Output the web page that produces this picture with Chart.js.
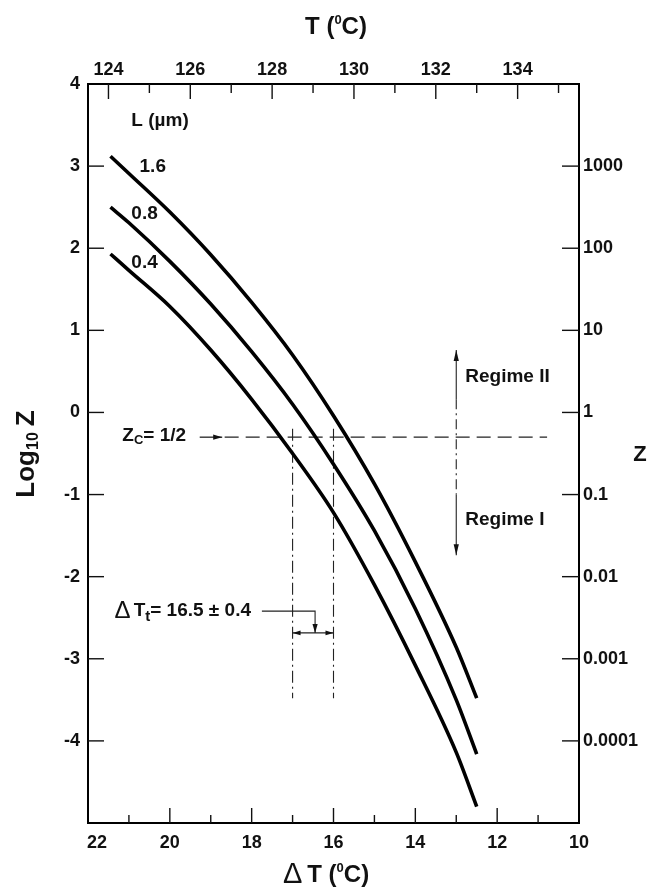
<!DOCTYPE html>
<html><head><meta charset="utf-8">
<script src="https://cdn.jsdelivr.net/npm/chart.js@4.4.0/dist/chart.umd.min.js"></script>
<style>html,body{margin:0;padding:0;background:#fff}#wrap{width:651px;height:887px}</style>
</head><body><div id="wrap"><canvas id="c" width="651" height="887" style="width:651px;height:887px"></canvas></div>
<script>
// ---------- data (ΔT in °C, log10 Z) ----------
const curveLabels = ["1.6", "0.8", "0.4"];
const dT_16 = [21.45, 21, 20, 19, 18, 17, 16, 15, 14, 13, 12.5];
const logZ_16 = [3.12, 2.91, 2.44, 1.92, 1.34, 0.70, -0.04, -0.87, -1.82, -2.86, -3.48];
const dT_08 = [21.45, 21, 20, 19, 18, 17, 16, 15, 14, 13, 12.5];
const logZ_08 = [2.50, 2.31, 1.84, 1.32, 0.74, 0.10, -0.63, -1.44, -2.39, -3.50, -4.16];
const dT_04 = [21.45, 21, 20, 19, 18, 17, 16, 15, 14, 13, 12.5];
const logZ_04 = [1.93, 1.73, 1.29, 0.76, 0.16, -0.50, -1.22, -2.10, -3.08, -4.14, -4.80];

// ---------- axes / ticks ----------
const Tm = 145.5;                      // T = Tm - ΔT
const bottomTicks = [22, 20, 18, 16, 14, 12, 10];
const bottomMinor = [21, 19, 17, 15, 13, 11];
const topTicks = [124, 126, 128, 130, 132, 134];
const topMinor = [125, 127, 129, 131, 133, 135];
const leftTicks = [4, 3, 2, 1, 0, -1, -2, -3, -4];
const rightTicks = [3, 2, 1, 0, -1, -2, -3, -4];
const rightTickLabels = ["1000", "100", "10", "1", "0.1", "0.01", "0.001", "0.0001"];

// ---------- annotations ----------
const zcLog = -0.301;                  // log10(1/2)
const zcLineDT = [18.66, 10.78];
const tRangeDT = [17, 16];
const tRangeLog = [-0.2, -3.48];
const regimeDT = 13;
const regimeLog = [0.76, 0.16, -1.0, -1.74];
const leaderDT = [17.75, 16.45];
const leaderLog = [-2.42, -2.685];

const FONT = "'Liberation Sans', Arial, Helvetica, sans-serif";
const INK = '#111';

const pts = (xs, ys) => xs.map((x, i) => ({x: x, y: ys[i]}));
const curve = (xs, ys) => ({data: pts(xs, ys), borderColor: '#000', borderWidth: 3.6,
  tension: 0.4, cubicInterpolationMode: 'monotone', pointRadius: 0, showLine: true, borderCapStyle: 'butt'});
const thin = (data, dash) => ({data: data, borderColor: '#222', borderWidth: 1.1, borderDash: dash || [],
  pointRadius: 0, showLine: true, tension: 0});

const datasets = [
  curve(dT_16, logZ_16),
  curve(dT_08, logZ_08),
  curve(dT_04, logZ_04),
  thin([{x: zcLineDT[0], y: zcLog}, {x: zcLineDT[1], y: zcLog}], [14, 7]),
  thin([{x: tRangeDT[0], y: tRangeLog[0]}, {x: tRangeDT[0], y: tRangeLog[1]}], [12, 4, 2, 4]),
  thin([{x: tRangeDT[1], y: tRangeLog[0]}, {x: tRangeDT[1], y: tRangeLog[1]}], [12, 4, 2, 4]),
  thin([{x: regimeDT, y: regimeLog[0]}, {x: regimeDT, y: regimeLog[1]}]),
  thin([{x: regimeDT, y: regimeLog[1]}, {x: regimeDT, y: regimeLog[2]}], [10, 4, 2, 4]),
  thin([{x: regimeDT, y: regimeLog[2]}, {x: regimeDT, y: regimeLog[3]}]),
  thin([{x: leaderDT[0], y: leaderLog[0]}, {x: leaderDT[1], y: leaderLog[0]}, {x: leaderDT[1], y: leaderLog[1]}]),
  thin([{x: tRangeDT[0], y: leaderLog[1]}, {x: tRangeDT[1], y: leaderLog[1]}])
];

function arrowHead(ctx, x, y, dx, dy, len, hw) {
  const px = -dy, py = dx;
  ctx.beginPath();
  ctx.moveTo(x, y);
  ctx.lineTo(x - dx * len + px * hw, y - dy * len + py * hw);
  ctx.lineTo(x - dx * len - px * hw, y - dy * len - py * hw);
  ctx.closePath();
  ctx.fill();
}

function rich(ctx, parts, x, y) {
  let cx = x;
  parts.forEach(p => {
    ctx.font = (p.w || 'bold') + ' ' + p.s + 'px ' + FONT;
    ctx.fillText(p.t, cx, y + (p.dy || 0));
    cx += ctx.measureText(p.t).width + (p.gap || 0);
  });
  return cx - x;
}
function richWidth(ctx, parts) {
  let w = 0;
  parts.forEach(p => { ctx.font = (p.w || 'bold') + ' ' + p.s + 'px ' + FONT; w += ctx.measureText(p.t).width + (p.gap || 0); });
  return w;
}

const overlay = {
  id: 'overlay',
  afterDraw(chart) {
    const ctx = chart.ctx, ca = chart.chartArea;
    const X = chart.scales.x, Y = chart.scales.y, X2 = chart.scales.x2, Y2 = chart.scales.y2;
    ctx.save();
    ctx.strokeStyle = INK; ctx.fillStyle = INK; ctx.lineWidth = 1.4;
    const vt = (px, y0, len) => { ctx.beginPath(); ctx.moveTo(px, y0); ctx.lineTo(px, y0 + len); ctx.stroke(); };
    const ht = (py, x0, len) => { ctx.beginPath(); ctx.moveTo(x0, py); ctx.lineTo(x0 + len, py); ctx.stroke(); };
    bottomTicks.slice(1, -1).forEach(v => vt(X.getPixelForValue(v), ca.bottom, -15));
    bottomMinor.forEach(v => vt(X.getPixelForValue(v), ca.bottom, -8));
    topTicks.forEach(v => vt(X2.getPixelForValue(v), ca.top, 15));
    topMinor.forEach(v => vt(X2.getPixelForValue(v), ca.top, 9));
    leftTicks.slice(1).forEach(v => ht(Y.getPixelForValue(v), ca.left, 16));
    rightTicks.forEach(v => ht(Y2.getPixelForValue(v), ca.right, -17));

    const px = v => X.getPixelForValue(v), py = v => Y.getPixelForValue(v);
    ctx.lineWidth = 1.2;
    const zy = py(zcLog);
    ctx.beginPath(); ctx.moveTo(px(19.27), zy); ctx.lineTo(px(18.72), zy); ctx.stroke();
    arrowHead(ctx, px(18.72), zy, 1, 0, 9, 2.6);
    arrowHead(ctx, px(regimeDT), py(regimeLog[0]), 0, -1, 11, 2.6);
    arrowHead(ctx, px(regimeDT), py(regimeLog[3]), 0, 1, 11, 2.6);
    arrowHead(ctx, px(leaderDT[1]), py(leaderLog[1]), 0, 1, 9, 2.6);
    arrowHead(ctx, px(tRangeDT[0]), py(leaderLog[1]), -1, 0, 8, 2.4);
    arrowHead(ctx, px(tRangeDT[1]), py(leaderLog[1]), 1, 0, 8, 2.4);

    ctx.textBaseline = 'middle';
    ctx.textAlign = 'left';
    rich(ctx, [{t: 'L (\u00b5m)', s: 19}], px(20.94), py(3.556));
    rich(ctx, [{t: curveLabels[0], s: 19}], px(20.74), py(2.99));
    rich(ctx, [{t: curveLabels[1], s: 19}], px(20.94), py(2.42));
    rich(ctx, [{t: curveLabels[2], s: 19}], px(20.94), py(1.82));
    rich(ctx, [{t: 'Z', s: 19}, {t: 'C', s: 13, dy: 4}, {t: '= 1/2', s: 19}], px(21.16), py(-0.29));
    rich(ctx, [{t: 'Regime II', s: 19}], px(12.78), py(0.44));
    rich(ctx, [{t: 'Regime I', s: 19}], px(12.78), py(-1.31));
    rich(ctx, [{t: '\u0394', s: 24, w: 'normal', gap: 3}, {t: 'T', s: 19}, {t: 't', s: 15, dy: 6}, {t: '= 16.5 \u00b1 0.4', s: 19}], px(21.35), py(-2.42));

    // axis titles
    const topT = [{t: 'T (', s: 24}, {t: '0', s: 13, dy: -7}, {t: 'C)', s: 24}];
    rich(ctx, topT, 336 - richWidth(ctx, topT) / 2, 27);
    const botT = [{t: '\u0394', s: 29, w: 'normal', gap: 5}, {t: 'T (', s: 24}, {t: '0', s: 13, dy: -7}, {t: 'C)', s: 24}];
    rich(ctx, botT, 326 - richWidth(ctx, botT) / 2, 875);
    ctx.font = 'bold 22px ' + FONT;
    ctx.textAlign = 'center';
    ctx.fillText('Z', 640, 455);
    ctx.textAlign = 'left';
    ctx.save();
    ctx.translate(27, 454);
    ctx.rotate(-Math.PI / 2);
    const leftT = [{t: 'Log', s: 26}, {t: '10', s: 16, dy: 7, gap: 6}, {t: 'Z', s: 26}];
    rich(ctx, leftT, -richWidth(ctx, leftT) / 2, 0);
    ctx.restore();
    ctx.restore();
  }
};

const tickFont = {family: FONT, size: 18, weight: 'bold'};
const noGrid = {display: false, drawTicks: false, tickLength: 0};
const border = {display: true, color: '#000', width: 2};

new Chart(document.getElementById('c'), {
  type: 'scatter',
  data: {datasets: datasets},
  options: {
    responsive: false, animation: false,
    layout: {padding: 0},
    plugins: {legend: {display: false}, tooltip: {enabled: false}},
    scales: {
      x: {type: 'linear', position: 'bottom', min: 10, max: 22, reverse: true,
        afterBuildTicks: s => { s.ticks = bottomTicks.map(v => ({value: v})); },
        afterFit: s => { s.height = 64; },
        grid: noGrid, border: border,
        ticks: {font: tickFont, color: INK, padding: 9, maxRotation: 0, autoSkip: false,
          callback: v => (v === bottomTicks[0] ? '\u2003' : '') + String(v)}},
      x2: {type: 'linear', position: 'top', min: Tm - 22, max: Tm - 10,
        afterBuildTicks: s => { s.ticks = topTicks.map(v => ({value: v})); },
        afterFit: s => { s.height = 84; },
        grid: noGrid, border: border,
        ticks: {font: tickFont, color: INK, padding: 3, maxRotation: 0, autoSkip: false, callback: v => String(v)}},
      y: {type: 'linear', position: 'left', min: -5, max: 4,
        afterBuildTicks: s => { s.ticks = leftTicks.map(v => ({value: v})); },
        afterFit: s => { s.width = 88; },
        grid: noGrid, border: border,
        ticks: {font: tickFont, color: INK, padding: 8, autoSkip: false, callback: v => String(v)}},
      y2: {type: 'linear', position: 'right', min: -5, max: 4,
        afterBuildTicks: s => { s.ticks = rightTicks.map(v => ({value: v})); },
        afterFit: s => { s.width = 72; },
        grid: noGrid, border: border,
        ticks: {font: tickFont, color: INK, padding: 4, autoSkip: false,
          callback: v => rightTickLabels[rightTicks.indexOf(v)]}}
    }
  },
  plugins: [overlay]
});
</script>
</body></html>
